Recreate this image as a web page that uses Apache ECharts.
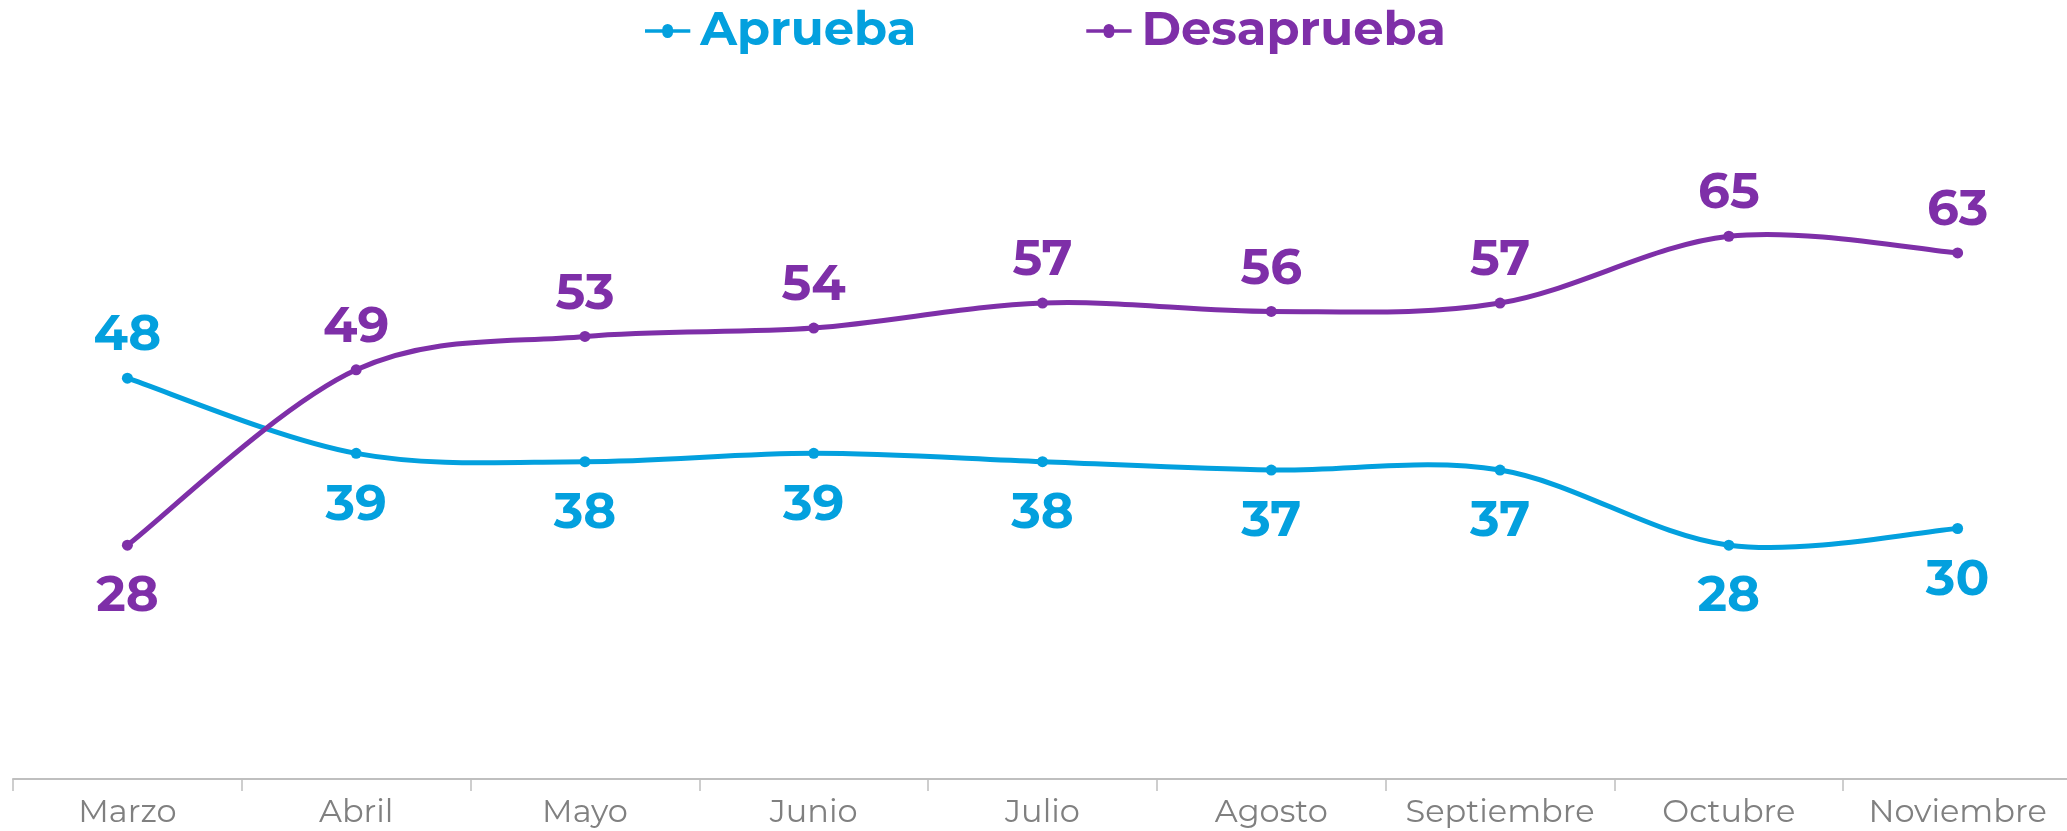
<!DOCTYPE html>
<html>
<head>
<meta charset="utf-8">
<script src="https://cdn.jsdelivr.net/npm/echarts@6/dist/echarts.min.js"></script>
<style>
  html, body { margin: 0; padding: 0; background: #fff; }
  #myChart { width: 2067px; height: 831px; }
</style>
</head>
<body>
<div id="myChart"></div>
<script>
// datos
const meses = ['Marzo', 'Abril', 'Mayo', 'Junio', 'Julio', 'Agosto', 'Septiembre', 'Octubre', 'Noviembre']
const aprueba = [48, 39, 38, 39, 38, 37, 37, 28, 30]
const desaprueba = [28, 49, 53, 54, 57, 56, 57, 65, 63]

const colors = ['#03A0DE', '#7E2FA8']
const font = "Montserrat, 'Open Sans', sans-serif"

// etiqueta arriba o abajo segun cual serie esta encima
function puntos (vals, otros) {
  return vals.map(function (v, i) {
    let arriba = v >= otros[i]
    return {
      value: v,
      label: {
        position: arriba ? 'top' : 'bottom',
        distance: arriba ? 12 : 21
      }
    }
  })
}

// puntos y etiquetas (la linea se dibuja aparte con la curva tipo excel)
function serie (name, vals, otros, color) {
  return {
    name: name,
    type: 'line',
    z: 3,
    symbol: 'circle',
    symbolSize: 11,
    lineStyle: { width: 0, opacity: 0 },
    itemStyle: { color: color },
    label: {
      show: true,
      color: color,
      fontFamily: font,
      fontWeight: 'bold',
      fontSize: 50
    },
    data: puntos(vals, otros)
  }
}

// curva suavizada como en excel, un tramo por punto
function curva (vals, color) {
  return {
    type: 'custom',
    z: 2,
    silent: true,
    data: vals.map(function (v, i) { return [i, v] }),
    renderItem: function (params, api) {
      let i = params.dataIndex
      let n = vals.length
      if (i >= n - 1) return null
      let p = function (k) {
        k = Math.max(0, Math.min(n - 1, k))
        return api.coord([k, vals[k]])
      }
      let p0 = p(i - 1), p1 = p(i), p2 = p(i + 1), p3 = p(i + 2)
      return {
        type: 'bezierCurve',
        shape: {
          x1: p1[0], y1: p1[1],
          cpx1: p1[0] + (p2[0] - p0[0]) / 6,
          cpy1: p1[1] + (p2[1] - p0[1]) / 6,
          cpx2: p2[0] - (p3[0] - p1[0]) / 6,
          cpy2: p2[1] - (p3[1] - p1[1]) / 6,
          x2: p2[0], y2: p2[1]
        },
        style: { stroke: color, lineWidth: 5, fill: null, lineCap: 'round' }
      }
    }
  }
}

let myChart = echarts.init(document.getElementById('myChart'))
let option = {
  animation: false,
  color: colors,
  legend: {
    left: 640,
    top: 2,
    itemWidth: 55,
    itemHeight: 14,
    itemGap: 170,
    icon: 'path://M0,5 L21,5 A6,6 0 0 1 34,5 L55,5 L55,9 L34,9 A6,6 0 0 1 21,9 L0,9 Z',
    textStyle: {
      fontFamily: font,
      fontWeight: 'bold',
      fontSize: 48
    },
    data: [
      { name: 'Aprueba', textStyle: { color: colors[0] } },
      { name: 'Desaprueba', textStyle: { color: colors[1] } }
    ]
  },
  grid: {
    left: 13,
    width: 2059,
    top: 111,
    bottom: 52,
    outerBoundsMode: 'none',
    containLabel: false
  },
  xAxis: {
    type: 'category',
    boundaryGap: true,
    data: meses,
    axisLine: { lineStyle: { color: '#BFBFBF', width: 2 } },
    axisTick: { show: true, length: 12, interval: 0, lineStyle: { color: '#BFBFBF', width: 1.5 } },
    axisLabel: {
      interval: 0,
      color: '#808080',
      fontFamily: font,
      fontSize: 32,
      margin: 18
    }
  },
  yAxis: {
    type: 'value',
    min: 0,
    max: 80,
    show: false,
    splitLine: { show: false }
  },
  series: [
    curva(aprueba, colors[0]),
    curva(desaprueba, colors[1]),
    serie('Aprueba', aprueba, desaprueba, colors[0]),
    serie('Desaprueba', desaprueba, aprueba, colors[1])
  ]
}
myChart.setOption(option, true)
</script>
</body>
</html>
